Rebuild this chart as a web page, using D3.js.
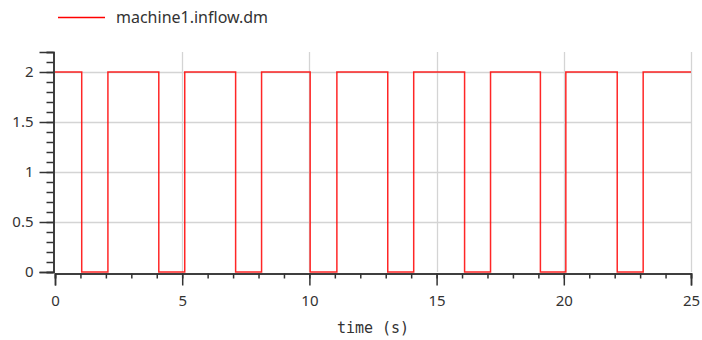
<!DOCTYPE html>
<html>
<head>
<script src="https://d3js.org/d3.v7.min.js"></script>
<style>
body { margin: 0; background: #fff; }
text { fill: #333; }
</style>
</head>
<body>
<script>
// switching instants of machine1.inflow.dm and the level held from each one
var times  = [0, 1.05, 2.08, 4.08, 5.1, 7.1, 8.12, 10.03, 11.08, 13.08, 14.1, 16.1, 17.12, 19.08, 20.08, 22.1, 23.12, 25];
var values = [2, 0,    2,    0,    2,   0,   2,    0,     2,     0,     2,    0,    2,     0,     2,     0,    2,     2];
var xTicks = [0, 5, 10, 15, 20, 25];
var yTicks = [0, 0.5, 1, 1.5, 2];
var seriesName = 'machine1.inflow.dm';

var width = 702, height = 340;
var plotLeft = 55, plotRight = 691, plotTop = 52, plotBottom = 272;

var svg = d3.select('body').append('svg')
    .attr('width', width)
    .attr('height', height);

var x = d3.scaleLinear().domain([0, 25]).range([plotLeft, plotRight]);
var y = d3.scaleLinear().domain([0, 2.2]).range([plotBottom, plotTop]);

// grid
svg.append('g').selectAll('line')
    .data(yTicks.slice(1))
    .enter().append('line')
    .attr('x1', plotLeft).attr('x2', plotRight)
    .attr('y1', function(d) { return Math.round(y(d)) + 0.5; })
    .attr('y2', function(d) { return Math.round(y(d)) + 0.5; })
    .attr('stroke', '#d4d4d4').attr('stroke-width', 1.3);

svg.append('g').selectAll('line')
    .data(xTicks.slice(1))
    .enter().append('line')
    .attr('x1', function(d) { return Math.round(x(d)) + 0.5; })
    .attr('x2', function(d) { return Math.round(x(d)) + 0.5; })
    .attr('y1', plotTop).attr('y2', plotBottom)
    .attr('stroke', '#d4d4d4').attr('stroke-width', 1.3);

// axes
var xMinor = d3.axisBottom(x).tickValues(d3.range(0, 26, 1)).tickSize(5).tickFormat('');
var xMajor = d3.axisBottom(x).tickValues(xTicks).tickSize(12).tickPadding(10).tickFormat(d3.format('d'));
var yMinor = d3.axisLeft(y).tickValues(d3.range(0, 2.21, 0.1)).tickSize(7).tickFormat('');
var yMajor = d3.axisLeft(y).tickValues(yTicks).tickSize(14).tickPadding(6).tickFormat(function(d) { return String(d); });

function styleAxis(g) {
  g.select('.domain').attr('stroke', '#333').attr('stroke-width', 1.5);
  g.selectAll('.tick line').attr('stroke', '#333').attr('stroke-width', 1.5);
  g.selectAll('text').attr('font-family', 'Noto Sans').attr('font-size', 15).attr('fill', '#333');
}

svg.append('g').attr('transform', 'translate(0,' + (plotBottom + 1.5) + ')').call(xMinor).call(styleAxis);
svg.append('g').attr('transform', 'translate(0,' + (plotBottom + 1.5) + ')').call(xMajor).call(styleAxis);
svg.append('g').attr('transform', 'translate(' + (plotLeft - 1.5) + ',0)').call(yMinor).call(styleAxis);
svg.append('g').attr('transform', 'translate(' + (plotLeft - 1.5) + ',0)').call(yMajor).call(styleAxis);

// series
var line = d3.line()
    .x(function(d, i) { return x(times[i]); })
    .y(function(d) { return y(d); })
    .curve(d3.curveStepAfter);

svg.append('path')
    .attr('d', line(values))
    .attr('fill', 'none')
    .attr('stroke', '#ff0000')
    .attr('stroke-opacity', 0.85)
    .attr('stroke-width', 1.5);

// x label
svg.append('text')
    .attr('x', (plotLeft + plotRight) / 2)
    .attr('y', 333)
    .attr('text-anchor', 'middle')
    .attr('font-family', 'DejaVu Sans Mono')
    .attr('font-size', 15)
    .text('time (s)');

// legend
svg.append('line')
    .attr('x1', 58).attr('x2', 105)
    .attr('y1', 17.5).attr('y2', 17.5)
    .attr('stroke', '#ff0000').attr('stroke-width', 1.5);
svg.append('text')
    .attr('x', 116)
    .attr('y', 23)
    .attr('font-family', 'Noto Sans')
    .attr('font-size', 16)
    .text(seriesName);
</script>
</body>
</html>
